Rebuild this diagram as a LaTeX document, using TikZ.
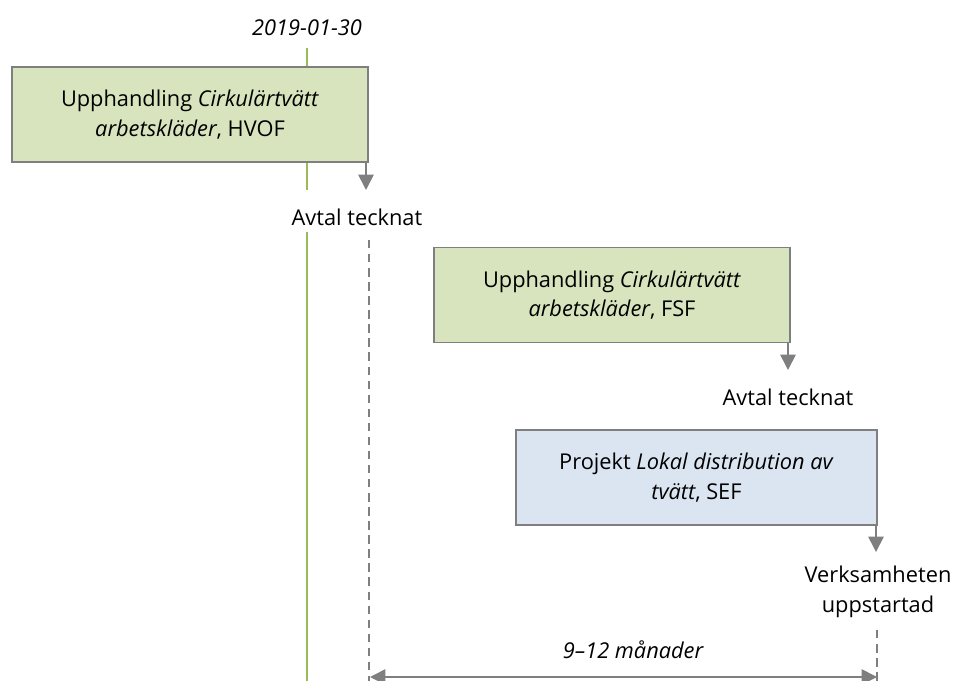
\documentclass[tikz,border=0pt]{standalone}
\usepackage{fontspec}
\setmainfont{Open Sans}
\usetikzlibrary{arrows.meta}
\definecolor{boxgreen}{HTML}{D7E4BD}
\definecolor{boxblue}{HTML}{DBE5F1}
\definecolor{linegreen}{HTML}{9BBB59}
\definecolor{linegray}{HTML}{7F7F7F}

\begin{document}
\begin{tikzpicture}
	[x=0.025cm, y=-0.025cm, font=\fontsize{15.5}{21}\selectfont,
	 box/.style={draw=linegray, line width=0.8pt, align=center, inner sep=0pt, minimum height=2.375cm},
	 label/.style={align=center, inner sep=0pt},
	 arr/.style={draw=linegray, line width=1.2pt, -{Triangle[width=11pt,length=11pt]}},
	 dim/.style={draw=linegray, line width=1.2pt, {Triangle[width=11pt,length=11pt]}-{Triangle[width=11pt,length=11pt]}},
	 guide/.style={draw=linegray, line width=0.8pt, dash pattern=on 6pt off 4pt},
	 timeline/.style={draw=linegreen, line width=1.2pt}]
	\useasboundingbox (0,0) rectangle (958,681);

	% tidslinje
	\node[label] (date) at (307,28) {\itshape 2019-01-30};
	\node[box, fill=boxgreen, minimum width=8.9cm] (hvof) at (190,114.5)
		{Upphandling \textit{Cirkulärtvätt}\\\textit{arbetskläder}, HVOF};
	\coordinate (t1) at (307,48);
	\coordinate (t2) at (307,190);
	\coordinate (t3) at (307,232);
	\coordinate (t4) at (307,681);
	\draw[timeline] (t1) -- (t1 |- hvof.north);
	\draw[timeline] (t2 |- hvof.south) -- (t2);
	\draw[timeline] (t3) -- (t4);

	% avtal HVOF
	\coordinate (a1) at (366,190);
	\node[label] (avtal1) at (357,217) {Avtal tecknat};
	\draw[arr] (a1 |- hvof.south) -- (a1);

	% avtal FSF
	\node[box, fill=boxgreen, minimum width=8.9cm] (fsf) at (612,295)
		{Upphandling \textit{Cirkulärtvätt}\\\textit{arbetskläder}, FSF};
	\coordinate (a2) at (788,370);
	\node[label] (avtal2) at (788,397) {Avtal tecknat};
	\draw[arr] (a2 |- fsf.south) -- (a2);

	% projekt SEF
	\node[box, fill=boxblue, minimum width=9.025cm] (sef) at (696.5,477.5)
		{Projekt \textit{Lokal distribution av}\\\textit{tvätt}, SEF};
	\coordinate (a3) at (876,552);
	\node[label] (start) at (878,592) {Verksamheten\\uppstartad};
	\draw[arr] (a3 |- sef.south) -- (a3);

	% tid
	\coordinate (d1) at (369,240);
	\coordinate (d2) at (369,681);
	\coordinate (d3) at (877,630);
	\coordinate (d4) at (877,681);
	\draw[guide] (d1) -- (d2);
	\draw[guide] (d3) -- (d4);
	\coordinate (m1) at (370,677);
	\coordinate (m2) at (877,677);
	\draw[dim] (m1) -- (m2);
	\node[label] (tid) at (633,650) {\itshape 9–12 månader};
\end{tikzpicture}
\end{document}
